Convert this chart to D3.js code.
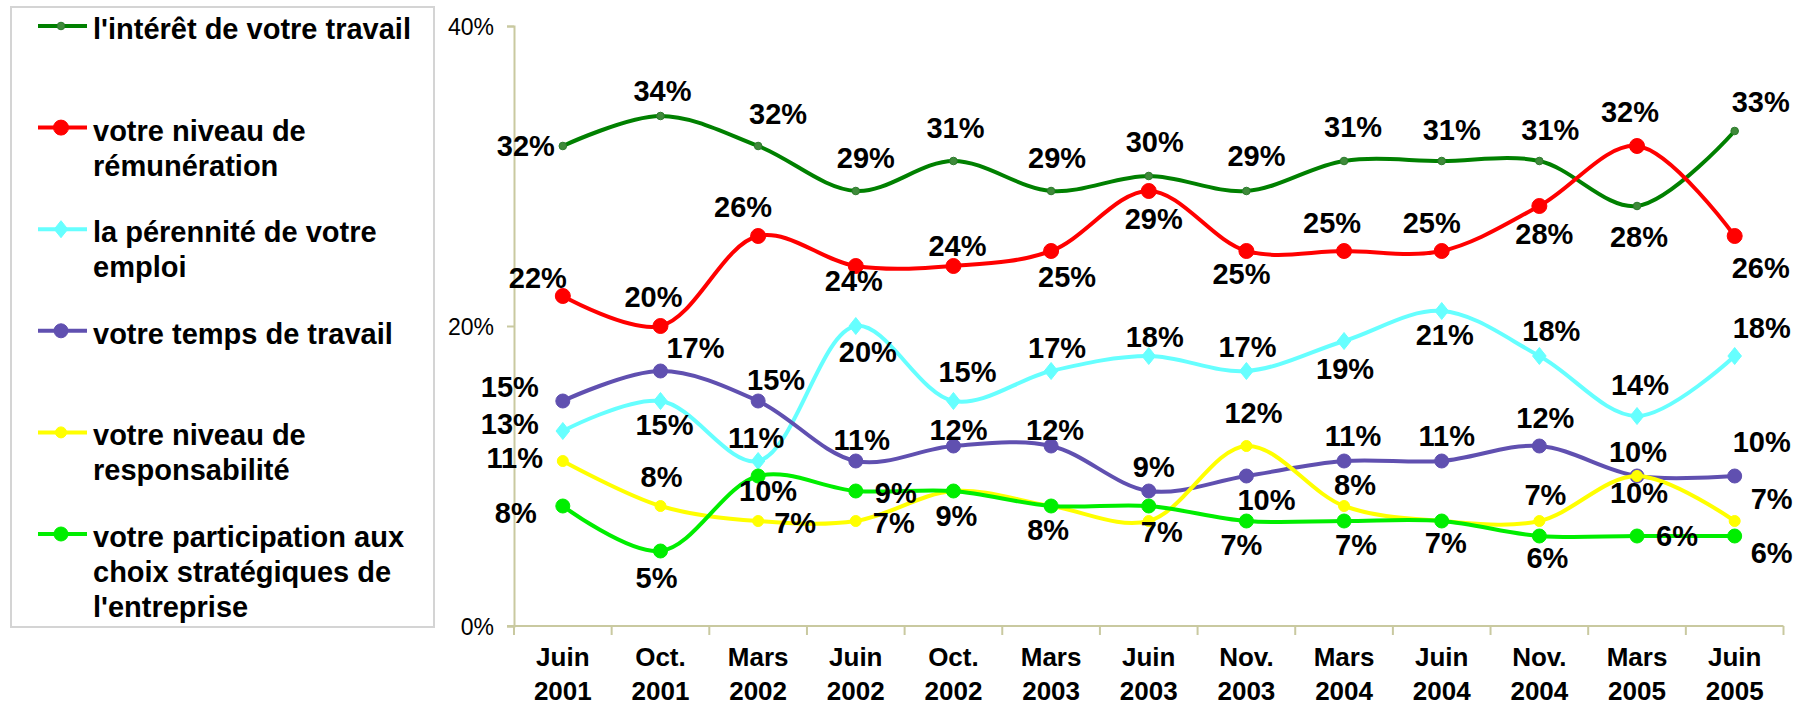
<!DOCTYPE html>
<html>
<head>
<meta charset="utf-8">
<script src="https://cdn.jsdelivr.net/npm/d3@7"></script>
<style>
  html, body { margin: 0; padding: 0; background: #ffffff; }
  svg { display: block; }
  text { font-family: "Liberation Sans", Arial, sans-serif; }
</style>
</head>
<body>
<svg id="chart" width="1811" height="707"></svg>
<script>
// ---------------- DATA ----------------
const categories = ["Juin 2001", "Oct. 2001", "Mars 2002", "Juin 2002", "Oct. 2002", "Mars 2003",
  "Juin 2003", "Nov. 2003", "Mars 2004", "Juin 2004", "Nov. 2004", "Mars 2005", "Juin 2005"];

const seriesNames = [
  ["l'intérêt de votre travail"],
  ["votre niveau de", "rémunération"],
  ["la pérennité de votre", "emploi"],
  ["votre temps de travail"],
  ["votre niveau de", "responsabilité"],
  ["votre participation aux", "choix stratégiques de", "l'entreprise"]
];

const interet        = [32, 34, 32, 29, 31, 29, 30, 29, 31, 31, 31, 28, 33];
const remuneration   = [22, 20, 26, 24, 24, 25, 29, 25, 25, 25, 28, 32, 26];
const perennite      = [13, 15, 11, 20, 15, 17, 18, 17, 19, 21, 18, 14, 18];
const tempsTravail   = [15, 17, 15, 11, 12, 12, 9, 10, 11, 11, 12, 10, 10];
const responsabilite = [11, 8, 7, 7, 9, 8, 7, 12, 8, 7, 7, 10, 7];
const participation  = [8, 5, 10, 9, 9, 8, 8, 7, 7, 7, 6, 6, 6];

const yTickValues = [0, 20, 40];

// ---------------- LABEL PLACEMENT (offset of label centre / baseline from the point) ----------------
const offInteret = [[-37,10],[2,-15],[20,-22],[10,-23],[2,-23],[6,-23],[6,-24],[10,-25],[9,-24],[10,-21],[11,-21],[2,41],[26,-19]];
const offRemun   = [[-25,-8],[-7,-19],[-15,-19],[-2,25],[4,-10],[16,36],[5,38],[-5,33],[-12,-18],[-10,-18],[5,38],[-7,-24],[26,42]];
const offPeren   = [[-53,3],[4,34],[-2,-13],[12,36],[14,-19],[6,-13],[6,-9],[1,-14],[1,38],[3,34],[12,-15],[3,-21],[27,-18]];
const offTemps   = [[-53,-4],[35,-13],[18,-11],[6,-11],[5,-6],[4,-6],[5,-14],[20,34],[9,-15],[5,-15],[6,-18],[1,-14],[27,-24]];
const offRespo   = [[-48,7],[1,-19],[37,12],[38,12],[3,35],[-3,34],[13,21],[7,-23],[11,-11],null,[6,-16],[2,27],[37,-12]];
const offPartic  = [[-47,17],[-4,37],[10,25],[40,12],null,null,null,[-5,34],[12,34],[4,32],[8,32],[40,10],[37,27]];

// ---------------- STYLE ----------------
const styles = [
  { values: interet,        offs: offInteret, color: "#008000", marker: "circle",  r: 3.8, fill: "#3f8a3a", stroke: "#2b7a2b" },
  { values: remuneration,   offs: offRemun,   color: "#ff0000", marker: "circle",  r: 7.5, fill: "#ff0000", stroke: "#ff0000" },
  { values: perennite,      offs: offPeren,   color: "#66ffff", marker: "diamond", r: 8.5, fill: "#66ffff", stroke: "#66ffff" },
  { values: tempsTravail,   offs: offTemps,   color: "#6050b0", marker: "circle",  r: 7,   fill: "#6050b0", stroke: "#6050b0" },
  { values: responsabilite, offs: offRespo,   color: "#ffff00", marker: "circle",  r: 5.5, fill: "#ffff00", stroke: "#ffff00" },
  { values: participation,  offs: offPartic,  color: "#00ee00", marker: "circle",  r: 7,   fill: "#00ee00", stroke: "#00ee00" }
];

const svg = d3.select("#chart");
svg.append("rect").attr("width", 1811).attr("height", 707).attr("fill", "#ffffff");

const plot = { left: 514, right: 1783.5, top: 26, bottom: 626 };
const axisColor = "#c9c9a0";

const x = d3.scaleBand().domain(categories).range([plot.left, plot.right]).paddingInner(0).paddingOuter(0);
const y = d3.scaleLinear().domain([0, 40]).range([plot.bottom, plot.top]);
const cx = c => x(c) + x.bandwidth() / 2;

// ---------------- Y AXIS ----------------
const yAxis = d3.axisLeft(y).tickValues(yTickValues).tickSize(7).tickFormat(d => d + "%");
const gy = svg.append("g").attr("transform", `translate(${plot.left},0)`).call(yAxis);
gy.select(".domain").attr("stroke", axisColor).attr("stroke-width", 2);
gy.selectAll(".tick line").attr("stroke", axisColor).attr("stroke-width", 2);
gy.selectAll(".tick text")
  .attr("font-size", 23).attr("font-family", "'Liberation Sans', Arial, sans-serif")
  .attr("fill", "#000").attr("x", -20).attr("dy", "0.38em");

// ---------------- X AXIS ----------------
const gx = svg.append("g").attr("transform", `translate(0,${plot.bottom})`);
gx.append("line").attr("x1", plot.left - 7).attr("x2", plot.right)
  .attr("y1", 0).attr("y2", 0).attr("stroke", axisColor).attr("stroke-width", 2);
const boundaries = categories.map(c => x(c)).concat([x.range()[1]]);
gx.selectAll("line.tk").data(boundaries).join("line").attr("class", "tk")
  .attr("x1", d => d).attr("x2", d => d).attr("y1", 0).attr("y2", 9)
  .attr("stroke", axisColor).attr("stroke-width", 2);
const xl = gx.selectAll("text.cat").data(categories).join("text").attr("class", "cat")
  .attr("x", d => cx(d)).attr("text-anchor", "middle")
  .attr("font-size", 26).attr("font-weight", "bold").attr("fill", "#000");
xl.each(function(d) {
  const parts = d.split(" ");
  const t = d3.select(this);
  t.append("tspan").attr("x", cx(d)).attr("y", 40).text(parts[0]);
  t.append("tspan").attr("x", cx(d)).attr("y", 74).text(parts[1]);
});

// ---------------- LINES ----------------
const line = d3.line()
  .x((d, i) => cx(categories[i]))
  .y(d => y(d))
  .curve(d3.curveCatmullRom.alpha(0.5));

function drawMarker(g, s, px, py) {
  if (s.marker === "diamond") {
    const r = s.r;
    g.append("path")
      .attr("d", `M${px},${py - r}L${px + r * 0.8},${py}L${px},${py + r}L${px - r * 0.8},${py}Z`)
      .attr("fill", s.fill).attr("stroke", s.stroke).attr("stroke-width", 1);
  } else {
    g.append("circle").attr("cx", px).attr("cy", py).attr("r", s.r)
      .attr("fill", s.fill).attr("stroke", s.stroke).attr("stroke-width", 1);
  }
}

styles.forEach(s => {
  const g = svg.append("g");
  g.append("path").datum(s.values).attr("d", line)
    .attr("fill", "none").attr("stroke", s.color).attr("stroke-width", 4)
    .attr("stroke-linejoin", "round").attr("stroke-linecap", "round");
  s.values.forEach((v, i) => drawMarker(g, s, cx(categories[i]), y(v)));
});

// ---------------- DATA LABELS ----------------
const gl = svg.append("g");
styles.forEach(s => {
  s.values.forEach((v, i) => {
    const o = s.offs[i];
    if (!o) return;
    gl.append("text")
      .attr("x", cx(categories[i]) + o[0]).attr("y", y(v) + o[1])
      .attr("text-anchor", "middle").attr("font-size", 29).attr("font-weight", "bold")
      .attr("fill", "#000").text(v + "%");
  });
});

// ---------------- LEGEND ----------------
const leg = svg.append("g");
leg.append("rect").attr("x", 11).attr("y", 7).attr("width", 423).attr("height", 620)
  .attr("fill", "#ffffff").attr("stroke", "#d4d4d4").attr("stroke-width", 2);
const legY = d3.scaleLinear().domain([0, 5]).range([26, 534]);
seriesNames.forEach((name, k) => {
  const s = styles[k];
  const my = legY(k);
  leg.append("line").attr("x1", 38).attr("x2", 87).attr("y1", my).attr("y2", my)
    .attr("stroke", s.color).attr("stroke-width", 4);
  drawMarker(leg, s, 61, my);
  const t = leg.append("text").attr("font-size", 29).attr("font-weight", "bold").attr("fill", "#000");
  name.forEach((ln, j) => {
    t.append("tspan").attr("x", 93).attr("y", my + 13 + j * 35).text(ln);
  });
});
</script>
</body>
</html>
